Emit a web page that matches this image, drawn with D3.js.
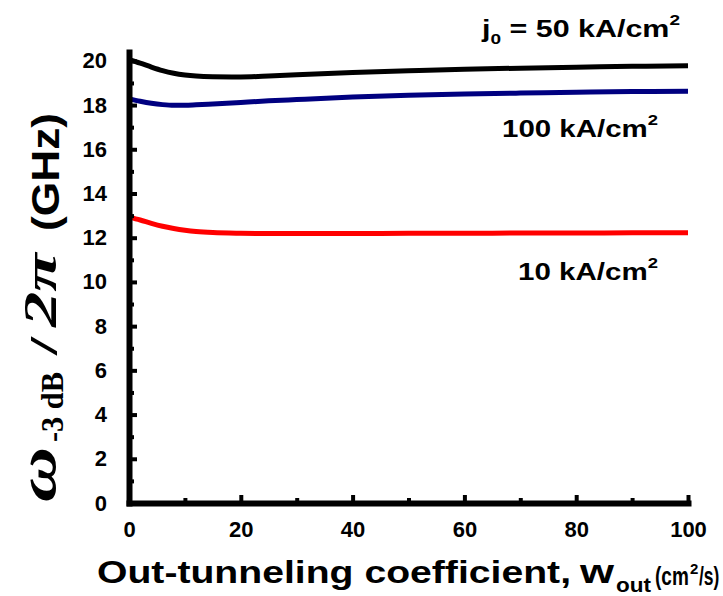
<!DOCTYPE html>
<html>
<head>
<meta charset="utf-8">
<script src="https://cdn.jsdelivr.net/npm/d3@7"></script>
<style>
  html, body { margin: 0; padding: 0; background: #fff; }
  svg { display: block; }
  text { font-family: "Liberation Sans", Arial, sans-serif; font-weight: bold; fill: #000; }
  .serif { font-family: "Liberation Serif", "Times New Roman", serif; }
</style>
</head>
<body>
<svg id="chart" width="723" height="596"></svg>
<script>
// ---- data ----
const wOut = [0, 2, 4, 6, 8, 10, 12, 15, 20, 25, 30, 40, 50, 60, 70, 80, 90, 100];
const j50  = [20.05, 19.9, 19.72, 19.56, 19.44, 19.36, 19.31, 19.28, 19.27, 19.31, 19.37, 19.47, 19.55, 19.62, 19.67, 19.71, 19.75, 19.78];
const j100 = [18.28, 18.17, 18.08, 18.02, 17.99, 17.99, 18.01, 18.05, 18.12, 18.19, 18.25, 18.36, 18.44, 18.50, 18.54, 18.58, 18.61, 18.63];
const j10  = [12.93, 12.80, 12.65, 12.52, 12.42, 12.34, 12.28, 12.23, 12.20, 12.19, 12.19, 12.19, 12.20, 12.20, 12.21, 12.21, 12.22, 12.22];
const seriesNames = ["50", "100", "10"];
const seriesColors = ["#000000", "#000080", "#ff0000"];
const xMajorTicks = [0, 20, 40, 60, 80, 100];
const xMinorTicks = [10, 30, 50, 70, 90];
const yMajorTicks = [0, 2, 4, 6, 8, 10, 12, 14, 16, 18, 20];
const yMinorTicks = [1, 3, 5, 7, 9, 11, 13, 15, 17, 19];

const svg = d3.select("#chart");
const x = d3.scaleLinear().domain([0, 100]).range([129, 688]);
const y = d3.scaleLinear().domain([0, 20.4]).range([503, 52]);

// ---- curves ----
const line = d3.line().x(d => x(d[0])).y(d => y(d[1])).curve(d3.curveMonotoneX);
[j50, j100, j10].forEach((vals, i) => {
  svg.append("path")
    .datum(wOut.map((w, k) => [w, vals[k]]))
    .attr("d", line)
    .attr("fill", "none")
    .attr("stroke", seriesColors[i])
    .attr("stroke-width", 5)
    .attr("stroke-linejoin", "round");
});

// ---- axes ----
const yAxis = svg.append("g").attr("transform", `translate(${x(0)},0)`)
  .call(d3.axisLeft(y).tickValues(yMajorTicks).tickSizeInner(-8).tickSizeOuter(0).tickPadding(22).tickFormat(d3.format("d")));
const yMinor = svg.append("g").attr("transform", `translate(${x(0)},0)`)
  .call(d3.axisLeft(y).tickValues(yMinorTicks).tickSizeInner(-5).tickSizeOuter(0).tickFormat(""));
const xAxis = svg.append("g").attr("transform", `translate(0,${y(0)})`)
  .call(d3.axisBottom(x).tickValues(xMajorTicks).tickSizeInner(-8).tickSizeOuter(0).tickPadding(18).tickFormat(d3.format("d")));
const xMinor = svg.append("g").attr("transform", `translate(0,${y(0)})`)
  .call(d3.axisBottom(x).tickValues(xMinorTicks).tickSizeInner(-5).tickSizeOuter(0).tickFormat(""));

[yAxis, yMinor, xAxis, xMinor].forEach(g => {
  g.select(".domain").attr("stroke", "#000").attr("stroke-width", 6).attr("stroke-linecap", "square");
  g.selectAll(".tick line").attr("stroke", "#000").attr("stroke-width", 4);
  g.selectAll(".tick text").attr("font-size", 22).attr("font-family", "Liberation Sans, Arial, sans-serif").attr("font-weight", "bold").attr("fill", "#000");
});
yMinor.select(".domain").remove();
xMinor.select(".domain").remove();

// ---- series labels ----
function seriesLabel(parts, xPos, yPos, len) {
  const t = svg.append("text").attr("x", xPos).attr("y", yPos).attr("font-size", 24)
    .attr("textLength", len).attr("lengthAdjust", "spacingAndGlyphs");
  parts.forEach(p => {
    const ts = t.append("tspan").text(p.t);
    if (p.size) ts.attr("font-size", p.size);
    if (p.dy) ts.attr("dy", p.dy);
  });
  return t;
}
seriesLabel([{t: "j"}, {t: "0", size: 15, dy: 7}, {t: " = " + seriesNames[0] + " kA/cm", dy: -7}, {t: "2", size: 15, dy: -12}], 482, 37, 198);
seriesLabel([{t: seriesNames[1] + " kA/cm"}, {t: "2", size: 15, dy: -12}], 502, 137, 156);
seriesLabel([{t: seriesNames[2] + " kA/cm"}, {t: "2", size: 15, dy: -12}], 518, 280, 140);

// ---- x axis title ----
svg.append("text").attr("x", 97).attr("y", 583).attr("font-size", 32)
  .attr("textLength", 474).attr("lengthAdjust", "spacingAndGlyphs").text("Out-tunneling coefficient,");
svg.append("text").attr("x", 580).attr("y", 583).attr("font-size", 34)
  .attr("textLength", 34).attr("lengthAdjust", "spacingAndGlyphs").text("w");
svg.append("text").attr("x", 616).attr("y", 592).attr("font-size", 21)
  .attr("textLength", 35).attr("lengthAdjust", "spacingAndGlyphs").text("out");
svg.append("text").attr("transform", "translate(655,585) scale(0.76,1)").attr("font-size", 25).text("(cm");
svg.append("text").attr("x", 690).attr("y", 574).attr("font-size", 15).text("2");
svg.append("text").attr("transform", "translate(699,585) scale(0.7,1)").attr("font-size", 25).text("/s)");

// ---- y axis title (rotated pieces) ----
function rot(txt, bx, sy, size, len, cls, style) {
  const t = svg.append("text").attr("transform", `translate(${bx},${sy}) rotate(-90)`)
    .attr("font-size", size).attr("textLength", len).attr("lengthAdjust", "spacingAndGlyphs").text(txt);
  if (cls) t.attr("class", cls);
  if (style) t.attr("font-style", style);
  return t;
}
rot("\u03C9", 55, 502, 52, 55, "serif", "italic");
rot("-3 dB", 63, 442, 32, 70, "serif", null);
rot("/", 57, 355, 40, 18, "serif", null);
rot("2\u03C0", 56, 327, 46, 74, "serif", "italic");
rot("(GHz)", 59, 231, 38, 118, null, null);
</script>
</body>
</html>
